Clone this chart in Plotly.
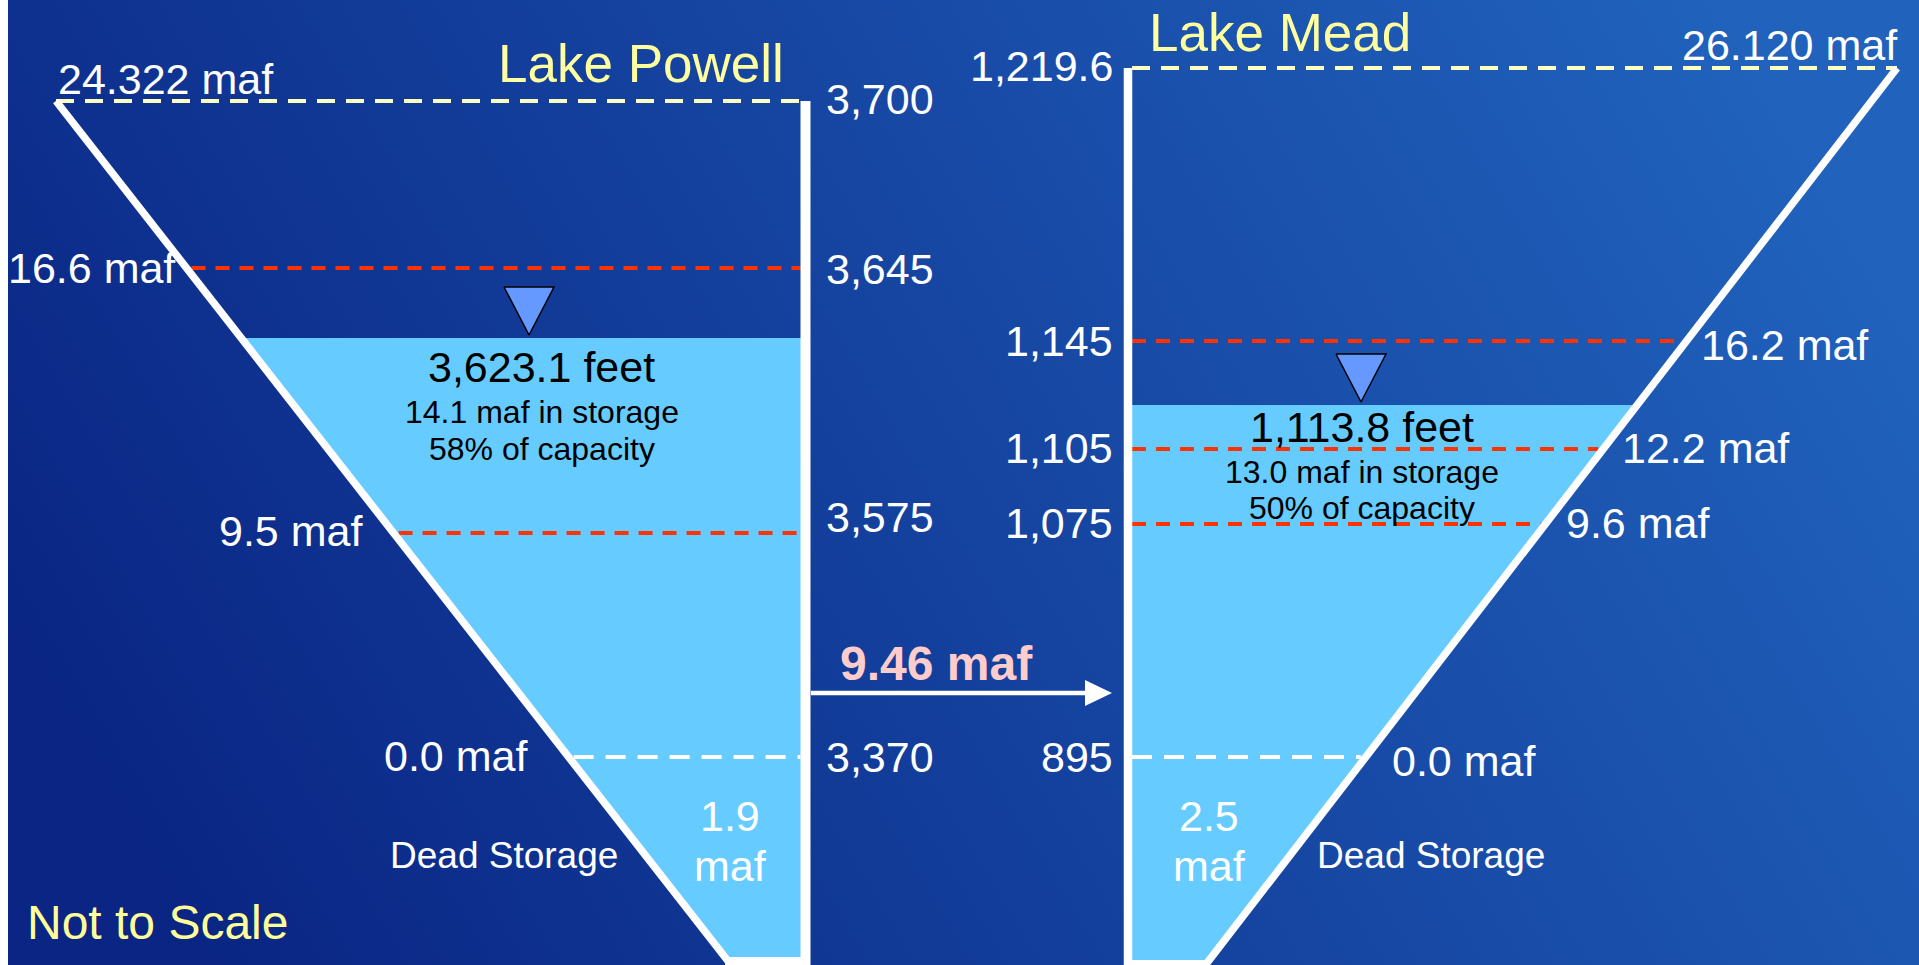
import base64
import numpy as np
import plotly.graph_objects as go

# ---------------- reservoir data ----------------
POWELL_ELEV_FT = [3700, 3645, 3575, 3370]
POWELL_STORAGE_MAF = [24.322, 16.6, 9.5, 0.0]
POWELL_NOW_FT = 3623.1
POWELL_NOW_MAF = 14.1
POWELL_NOW_PCT = 58
POWELL_DEAD_MAF = 1.9

MEAD_ELEV_FT = [1219.6, 1145, 1105, 1075, 895]
MEAD_STORAGE_MAF = [26.120, 16.2, 12.2, 9.6, 0.0]
MEAD_NOW_FT = 1113.8
MEAD_NOW_MAF = 13.0
MEAD_NOW_PCT = 50
MEAD_DEAD_MAF = 2.5

RELEASE_MAF = 9.46

# ---------------- schematic (not-to-scale) vertical scale ----------------
# elevation knots -> screen row; each reservoir has its own stretched scale
POWELL_KNOT_FT = [3370, 3575, 3623.1, 3645, 3700]
POWELL_KNOT_Y = [757, 533, 338, 268, 101]
MEAD_KNOT_FT = [895, 1075, 1105, 1113.8, 1145, 1219.6]
MEAD_KNOT_Y = [757, 524, 449, 405, 341, 68]

W, H = 1919, 965
FONT = "Arial, Liberation Sans, sans-serif"
WATER = "#66CCFF"
RED = "#FF3300"
PALE_YELLOW = "#FFFFA0"
TOP_LINE = "#FFFFC0"

BIG = 43      # level labels
SMALL = 32    # storage / capacity lines
DEAD = 37     # "Dead Storage"
TITLE = 53


def powell_y(ft):
    return float(np.interp(ft, POWELL_KNOT_FT, POWELL_KNOT_Y))


def mead_y(ft):
    return float(np.interp(ft, MEAD_KNOT_FT, MEAD_KNOT_Y))


def maf_text(v, top=False):
    return f"{v:.3f} maf" if top else f"{v:.1f} maf"


def ft_text(v):
    return f"{v:,.1f}" if v % 1 else f"{int(v):,}"


# reservoir outlines: a vertical dam wall and a sloping bank
P_WALL_X, P_TOP, P_BOT = 805.5, powell_y(POWELL_ELEV_FT[0]), 961
P_SLOPE_TOP_X, P_SLOPE_BOT_X = 56, 728
M_WALL_X, M_TOP, M_BOT = 1128, mead_y(MEAD_ELEV_FT[0]), 963
M_SLOPE_TOP_X, M_SLOPE_BOT_X = 1897, 1207


def p_bank(y):
    return P_SLOPE_TOP_X + (P_SLOPE_BOT_X - P_SLOPE_TOP_X) * (y - P_TOP) / (P_BOT - P_TOP)


def m_bank(y):
    return M_SLOPE_TOP_X + (M_SLOPE_BOT_X - M_SLOPE_TOP_X) * (y - M_TOP) / (M_BOT - M_TOP)


fig = go.Figure()


def line(xs, ys, color, width, dash="solid"):
    fig.add_trace(go.Scatter(x=xs, y=ys, mode="lines", hoverinfo="skip",
                             line=dict(color=color, width=width, dash=dash)))


def poly(xs, ys, fill, outline=None, width=0):
    fig.add_trace(go.Scatter(x=xs + [xs[0]], y=ys + [ys[0]], mode="lines", fill="toself",
                             fillcolor=fill, hoverinfo="skip",
                             line=dict(color=outline or "rgba(0,0,0,0)", width=width)))


def label(text, x, y, size, color="white", xanchor="center", weight="normal"):
    fig.add_annotation(x=x, y=y, xref="x", yref="y", text=text, showarrow=False,
                       xanchor=xanchor, yanchor="middle",
                       font=dict(family=FONT, size=size, color=color, weight=weight))


# ---------------- water bodies ----------------
pw = powell_y(POWELL_NOW_FT)
poly([P_WALL_X, p_bank(pw), P_SLOPE_BOT_X, P_WALL_X], [pw, pw, P_BOT, P_BOT], WATER)
mw = mead_y(MEAD_NOW_FT)
poly([M_WALL_X, m_bank(mw), M_SLOPE_BOT_X, M_WALL_X], [mw, mw, M_BOT, M_BOT], WATER)


def level_style(i, storage):
    if i == 0:
        return TOP_LINE, "18px,11px"
    if storage == 0:
        return "white", "20px,12px"
    return RED, "14px,10px"


# ---------------- level lines ----------------
for i, ft in enumerate(POWELL_ELEV_FT):
    y = powell_y(ft)
    color, dash = level_style(i, POWELL_STORAGE_MAF[i])
    x0 = p_bank(y) + (0 if i == 0 else 5)
    line([x0, P_WALL_X - 5], [y, y], color, 4, dash)

for i, ft in enumerate(MEAD_ELEV_FT):
    y = mead_y(ft)
    color, dash = level_style(i, MEAD_STORAGE_MAF[i])
    x1 = m_bank(y) - (0 if i == 0 else 5)
    line([M_WALL_X + 4, x1], [y, y], color, 4, dash)

# ---------------- dam walls, banks and floors ----------------
line([P_WALL_X, P_WALL_X], [P_TOP, H + 5], "white", 10)
line([P_SLOPE_TOP_X, P_SLOPE_BOT_X], [P_TOP, P_BOT], "white", 7.5)
line([P_SLOPE_BOT_X - 3, P_WALL_X], [P_BOT, P_BOT], "white", 8)
line([M_WALL_X, M_WALL_X], [M_TOP, H + 5], "white", 8.5)
line([M_SLOPE_TOP_X, M_SLOPE_BOT_X], [M_TOP, M_BOT], "white", 7.5)
line([M_WALL_X, M_SLOPE_BOT_X + 3], [M_BOT, M_BOT], "white", 6)

# ---------------- water-surface markers ----------------
for cx, wy in [(529, pw), (1361, mw)]:
    tip = wy - 3
    poly([cx - 25, cx + 25, cx], [tip - 48, tip - 48, tip], "#6699FF", "black", 1.5)

# ---------------- release arrow ----------------
ay = 693
line([811, 1088], [ay, ay], "white", 4.5)
poly([1085, 1112, 1085], [ay - 13, ay, ay + 13], "white")
label(f"{RELEASE_MAF:.2f} maf", 936, ay - 30, 48, "#FFCCCC", weight="bold")

# ---------------- Lake Powell labels ----------------
label("Lake Powell", 786, 63, TITLE, PALE_YELLOW, "right")
label(maf_text(POWELL_STORAGE_MAF[0], top=True), 56, 79, BIG, xanchor="left")
p_store_pos = [None, (178, 0), (365, -2), (530, -1)]
for i in range(1, len(POWELL_STORAGE_MAF)):
    x, dy = p_store_pos[i]
    label(maf_text(POWELL_STORAGE_MAF[i]), x, powell_y(POWELL_ELEV_FT[i]) + dy, BIG, xanchor="right")
p_elev_dy = [-2, 1, -16, 0]
for ft, dy in zip(POWELL_ELEV_FT, p_elev_dy):
    label(ft_text(ft), 824, powell_y(ft) + dy, BIG, xanchor="left")

label(f"{POWELL_NOW_FT:,.1f} feet", 541, pw + 29, BIG, "black")
label(f"{POWELL_NOW_MAF:.1f} maf in storage", 542, pw + 74, SMALL, "black")
label(f"{POWELL_NOW_PCT}% of capacity", 542, pw + 111, SMALL, "black")
label(f"{POWELL_DEAD_MAF:.1f}", 730, 816, BIG)
label("maf", 730, 866, BIG)
label("Dead Storage", 504, 855, DEAD)
label("Not to Scale", 25, 922, 48, "#FFFF99", "left")

# ---------------- Lake Mead labels ----------------
label("Lake Mead", 1280, 32, TITLE, PALE_YELLOW)
label(maf_text(MEAD_STORAGE_MAF[0], top=True), 1900, 45, BIG, xanchor="right")
m_elev_dy = [-2, 0, -1, -1, 0]
for ft, dy in zip(MEAD_ELEV_FT, m_elev_dy):
    label(ft_text(ft), 1115, mead_y(ft) + dy, BIG, xanchor="right")
m_store_pos = [None, (1699, 4), (1620, -1), (1564, -1), (1390, 4)]
for i in range(1, len(MEAD_STORAGE_MAF)):
    x, dy = m_store_pos[i]
    label(maf_text(MEAD_STORAGE_MAF[i]), x, mead_y(MEAD_ELEV_FT[i]) + dy, BIG, xanchor="left")

label(f"{MEAD_NOW_FT:,.1f} feet", 1362, mw + 22, BIG, "black")
label(f"{MEAD_NOW_MAF:.1f} maf in storage", 1362, mw + 67, SMALL, "black")
label(f"{MEAD_NOW_PCT}% of capacity", 1362, mw + 103, SMALL, "black")
label(f"{MEAD_DEAD_MAF:.1f}", 1209, 816, BIG)
label("maf", 1209, 866, BIG)
label("Dead Storage", 1431, 855, DEAD)

# ---------------- background ----------------
svg = (
    f'<svg xmlns="http://www.w3.org/2000/svg" width="{W}" height="{H}" viewBox="0 0 {W} {H}" '
    'preserveAspectRatio="none">'
    '<defs><linearGradient id="g" gradientUnits="objectBoundingBox" x1="0" y1="0.65" x2="1" y2="0.35">'
    '<stop offset="0" stop-color="#0a2584"/><stop offset="1" stop-color="#2062bc"/>'
    '</linearGradient></defs>'
    f'<rect width="{W}" height="{H}" fill="url(#g)"/></svg>'
)
bg_src = "data:image/svg+xml;base64," + base64.b64encode(svg.encode()).decode()

fig.update_layout(
    width=W, height=H,
    margin=dict(l=0, r=0, t=0, b=0),
    paper_bgcolor="#0a2584", plot_bgcolor="rgba(0,0,0,0)",
    showlegend=False,
    xaxis=dict(range=[0, W], visible=False, fixedrange=True),
    yaxis=dict(range=[H, 0], visible=False, fixedrange=True),
    images=[dict(source=bg_src, xref="paper", yref="paper", x=0, y=1, sizex=1, sizey=1,
                 xanchor="left", yanchor="top", sizing="stretch", layer="below")],
    shapes=[dict(type="rect", xref="x", yref="y", x0=0, x1=8, y0=0, y1=H,
                 fillcolor="white", line=dict(width=0), layer="above")],
)

fig.write_html("out.html", config={"displayModeBar": False})
